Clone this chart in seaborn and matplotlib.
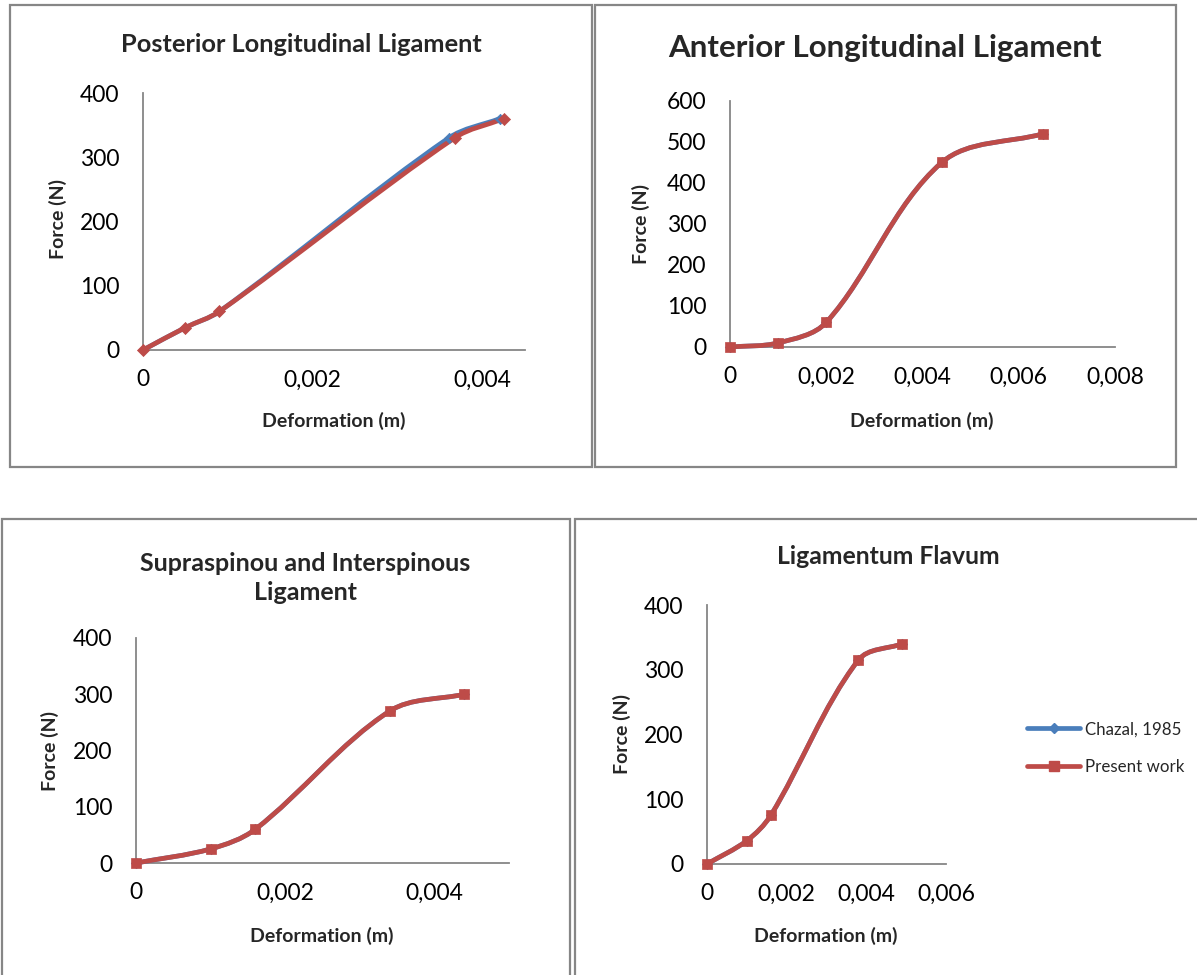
import matplotlib
matplotlib.use("Agg")
import matplotlib.pyplot as plt
from matplotlib.path import Path
from matplotlib.patches import PathPatch, Rectangle
from matplotlib.lines import Line2D
from matplotlib.ticker import FixedLocator, FuncFormatter
import numpy as np
import pandas as pd
import seaborn as sns

# ---- data -------------------------------------------------------------
series_labels = ["Chazal, 1985", "Present work"]

# Posterior Longitudinal Ligament
pll_def_chazal = [0.0, 0.0005, 0.0009, 0.0036, 0.0042]
pll_force_chazal = [0, 35, 60, 330, 360]
pll_def_present = [0.0, 0.0005, 0.0009, 0.00367, 0.00425]
pll_force_present = [0, 35, 60, 330, 360]

# Anterior Longitudinal Ligament
all_def = [0.0, 0.001, 0.002, 0.0044, 0.0065]
all_force = [0, 10, 60, 450, 520]

# Supraspinous and Interspinous Ligament
ssl_def = [0.0, 0.001, 0.0016, 0.0034, 0.0044]
ssl_force = [0, 25, 60, 270, 300]

# Ligamentum Flavum
lf_def = [0.0, 0.001, 0.0016, 0.0038, 0.0049]
lf_force = [0, 36, 75, 315, 340]

titles = [
    "Posterior Longitudinal Ligament",
    "Anterior Longitudinal Ligament",
    "Supraspinou and Interspinous\nLigament",
    "Ligamentum Flavum",
]
x_label = "Deformation (m)"
y_label = "Force (N)"

x_ticks = [
    [0, 0.002, 0.004],
    [0, 0.002, 0.004, 0.006, 0.008],
    [0, 0.002, 0.004],
    [0, 0.002, 0.004, 0.006],
]
x_limits = [(0, 0.0045), (0, 0.008), (0, 0.005), (0, 0.006)]
y_ticks = [
    [0, 100, 200, 300, 400],
    [0, 100, 200, 300, 400, 500, 600],
    [0, 100, 200, 300, 400],
    [0, 100, 200, 300, 400],
]

# ---- style ------------------------------------------------------------
BLUE = "#4A7EBB"
RED = "#BE4B48"
GREY = "#868686"

sns.set_style("white")
plt.rcParams["font.family"] = ["Lato", "DejaVu Sans"]

W, H = 1197, 975
fig = plt.figure(figsize=(W / 100, H / 100), dpi=100)


def fx(x):
    return x / W


def fy(y):
    return 1 - y / H


def smooth_path(ax, xs, ys, k=0.33):
    """Smoothed Bezier path through the points, built in screen space
    (tangent along the neighbour chord, handle length from segment length)."""
    to_px = ax.transData
    pts = to_px.transform(np.column_stack([xs, ys]).astype(float))
    n = len(pts)

    def tangent(i):
        a = pts[max(i - 1, 0)]
        b = pts[min(i + 1, n - 1)]
        d = b - a
        return d / np.hypot(*d)

    verts = [pts[0]]
    codes = [Path.MOVETO]
    for i in range(n - 1):
        p1, p2 = pts[i], pts[i + 1]
        L = np.hypot(*(p2 - p1))
        c1 = p1 + tangent(i) * L * k
        c2 = p2 - tangent(i + 1) * L * k
        verts += [c1, c2, p2]
        codes += [Path.CURVE4] * 3
    verts = to_px.inverted().transform(np.array(verts))
    return Path(verts, codes)


def draw_series(ax, xs, ys, color, marker, msize):
    patch = PathPatch(smooth_path(ax, xs, ys), facecolor="none",
                      edgecolor=color, lw=3.4, capstyle="round",
                      joinstyle="round", transform=ax.transData,
                      clip_on=False, zorder=3)
    ax.add_patch(patch)
    df = pd.DataFrame({"x": xs, "y": ys})
    sns.scatterplot(data=df, x="x", y="y", ax=ax, marker=marker, s=msize,
                    color=color, edgecolor=color, linewidth=0.5,
                    clip_on=False, zorder=4, legend=False)
    ax.set_xlabel("")
    ax.set_ylabel("")


def style_axes(ax, i):
    ax.set_xlim(*x_limits[i])
    ax.set_ylim(y_ticks[i][0], y_ticks[i][-1])
    ax.xaxis.set_major_locator(FixedLocator(x_ticks[i]))
    ax.yaxis.set_major_locator(FixedLocator(y_ticks[i]))
    ax.xaxis.set_major_formatter(
        FuncFormatter(lambda v, p: "0" if v == 0 else f"{v:.3f}".replace(".", ",")))
    ax.yaxis.set_major_formatter(FuncFormatter(lambda v, p: f"{v:.0f}"))
    sns.despine(ax=ax)
    for s in ("left", "bottom"):
        ax.spines[s].set_color(GREY)
        ax.spines[s].set_linewidth(1.3)
    ax.tick_params(axis="both", direction="out", length=6, width=1.1,
                   color=GREY, labelsize=16.5, labelcolor="black")
    ax.tick_params(axis="y", pad=11)
    ax.tick_params(axis="x", pad=8)
    ax.set_facecolor("none")


# axes rectangles (pixels: left, top, right, bottom)
boxes = [
    (143, 93, 525, 350),
    (730, 101, 1115, 347),
    (136, 638, 509, 863),
    (707, 605, 946, 864),
]
axes = []
for i, (l, t, r, b) in enumerate(boxes):
    ax = fig.add_axes([fx(l), fy(b), (r - l) / W, (b - t) / H])
    style_axes(ax, i)
    axes.append(ax)

# panel 1: the two series differ slightly
draw_series(axes[0], pll_def_chazal, pll_force_chazal, BLUE, "D", 28)
draw_series(axes[0], pll_def_present, pll_force_present, RED, "D", 38)
# remaining panels: both series coincide
for ax, xs, ys in [(axes[1], all_def, all_force),
                   (axes[2], ssl_def, ssl_force),
                   (axes[3], lf_def, lf_force)]:
    draw_series(ax, xs, ys, BLUE, "D", 28)
    draw_series(ax, xs, ys, RED, "s", 55)

for i, ax in enumerate(axes):
    style_axes(ax, i)

# ---- chart frames -------------------------------------------------------
frames = [(10, 5, 592, 467), (595, 5, 1176, 467),
          (2, 519, 570, 990), (575, 519, 1210, 990)]
for (l, t, r, b) in frames:
    fig.patches.append(Rectangle((fx(l), fy(b)), (r - l) / W, (b - t) / H,
                                 transform=fig.transFigure, fill=False,
                                 edgecolor=GREY, lw=1.6, zorder=0))

# ---- titles and axis labels ---------------------------------------------
title_pos = [(301, 45, 18.3), (885, 48, 22.5), (305, 578, 18.0), (888, 557, 17.8)]
for (x, y, fs), t in zip(title_pos, titles):
    fig.text(fx(x), fy(y), t, ha="center", va="center", fontsize=fs,
             fontweight="bold", linespacing=1.35)

xlab_pos = [(334, 421), (922, 421), (322, 936), (826, 936)]
ylab_pos = [(58, 219), (641, 224), (50, 751), (622, 734)]
for (x, y) in xlab_pos:
    fig.text(fx(x), fy(y), x_label, ha="center", va="center",
             fontsize=14, fontweight="bold")
for (x, y) in ylab_pos:
    fig.text(fx(x), fy(y), y_label, ha="center", va="center",
             fontsize=14, fontweight="bold", rotation=90)

# ---- legend -------------------------------------------------------------
handles = [
    Line2D([], [], color=BLUE, lw=3.4, marker="D", markersize=5),
    Line2D([], [], color=RED, lw=3.4, marker="s", markersize=7.5),
]
fig.legend(handles, series_labels, loc="center left",
           bbox_to_anchor=(fx(1012), fy(748)), frameon=False, fontsize=12.2,
           handlelength=3.1, handletextpad=0.3, labelspacing=1.25)

fig.savefig("out.png", dpi=100)
